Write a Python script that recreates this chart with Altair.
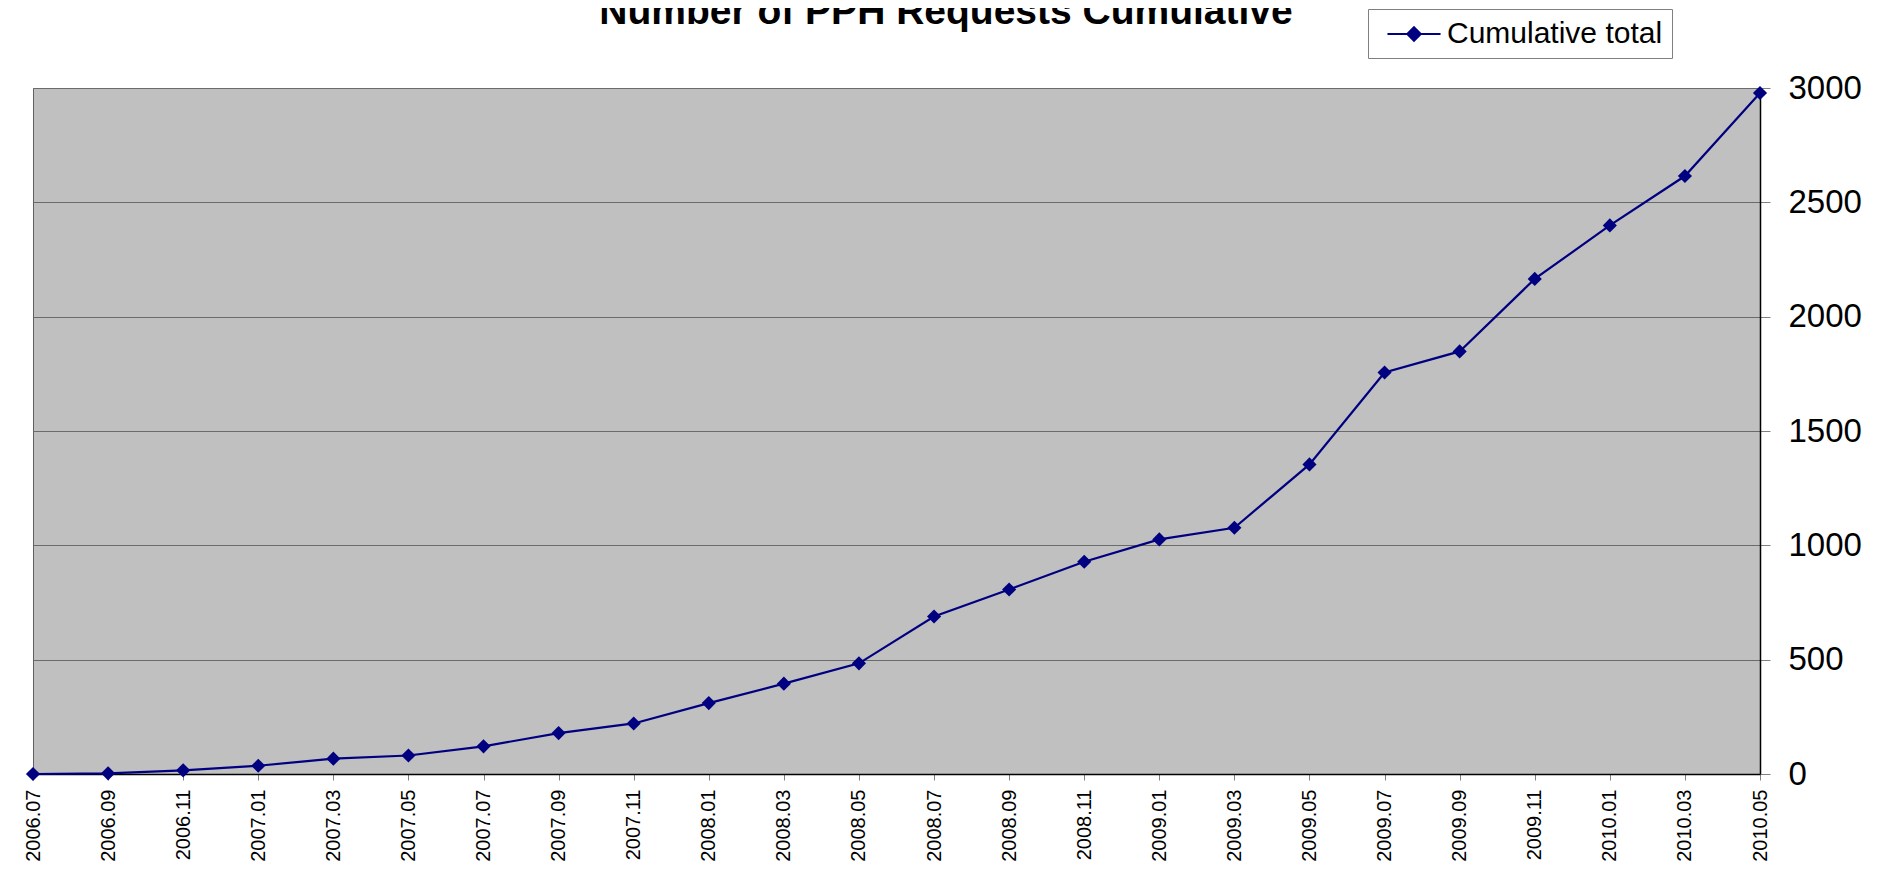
import altair as alt
import pandas as pd

months = ["2006.07", "2006.09", "2006.11", "2007.01", "2007.03", "2007.05",
          "2007.07", "2007.09", "2007.11", "2008.01", "2008.03", "2008.05",
          "2008.07", "2008.09", "2008.11", "2009.01", "2009.03", "2009.05",
          "2009.07", "2009.09", "2009.11", "2010.01", "2010.03", "2010.05"]
totals = [0, 3, 16, 36, 67, 81,
          121, 179, 221, 310, 395, 484,
          689, 807, 928, 1026, 1077, 1354,
          1756, 1848, 2165, 2399, 2615, 2978]
y_ticks = [0, 500, 1000, 1500, 2000, 2500, 3000]
series_name = "Cumulative total"
chart_title = "Number of PPH Requests Cumulative"

FONT = "Liberation Sans"
NAVY = "#000080"

df = pd.DataFrame({"month": months, "total": totals,
                   "series": [series_name] * len(months)})
title_df = pd.DataFrame({"t": [chart_title]})

x_enc = alt.X("month:O", sort=months,
              scale=alt.Scale(type="point", padding=0),
              axis=alt.Axis(title=None, labelAngle=270, labelFontSize=20,
                            labelFont=FONT, labelColor="black",
                            tickSize=6, tickColor="#808080",
                            domainColor="black", domainWidth=1.5,
                            labelPadding=9, grid=False))
y_enc = alt.Y("total:Q", scale=alt.Scale(domain=[0, 3000], nice=False),
              axis=alt.Axis(orient="right", title=None, values=y_ticks,
                            format="d",
                            labelFontSize=33, labelFont=FONT,
                            labelColor="black", tickSize=10,
                            tickColor="#808080", labelPadding=18,
                            grid=True, gridColor="#6b6b6b", gridWidth=1,
                            domainColor="black", domainWidth=1.5))
legend = alt.Legend(title=None, orient="none", legendX=1335, legendY=-79,
                    fillColor="white", strokeColor="#808080", padding=9,
                    labelFontSize=30, labelFont=FONT, labelColor="black",
                    labelLimit=1000,
                    symbolType="M-1.77,0L1.77,0M0,-0.45L0.45,0L0,0.45L-0.45,0Z",
                    symbolSize=900, symbolStrokeWidth=2,
                    symbolFillColor=NAVY, symbolStrokeColor=NAVY,
                    symbolOffset=21, labelOffset=17)
c_enc = alt.Color("series:N", scale=alt.Scale(range=[NAVY]), legend=legend)

line = alt.Chart(df).mark_line(strokeWidth=2.2).encode(x=x_enc, y=y_enc, color=c_enc)
points = alt.Chart(df).mark_point(shape="diamond", filled=True, size=200,
                                  opacity=1).encode(x=x_enc, y=y_enc, color=c_enc)
title = alt.Chart(title_df).mark_text(font=FONT, fontSize=39, fontWeight="bold",
                                      baseline="alphabetic", align="center",
                                      color="black").encode(
    x=alt.value(913), y=alt.value(-64), text="t:N")

chart = alt.layer(line, points, title).properties(
    width=1727, height=686,
    background="white",
    autosize=alt.AutoSizeParams(type="none"),
    padding={"left": 25, "top": 80, "right": 121, "bottom": 100},
).configure_view(
    fill="#C0C0C0", stroke="#606060", strokeWidth=1
)

chart.save("out.html", embed_options={"renderer": "svg", "actions": False})
